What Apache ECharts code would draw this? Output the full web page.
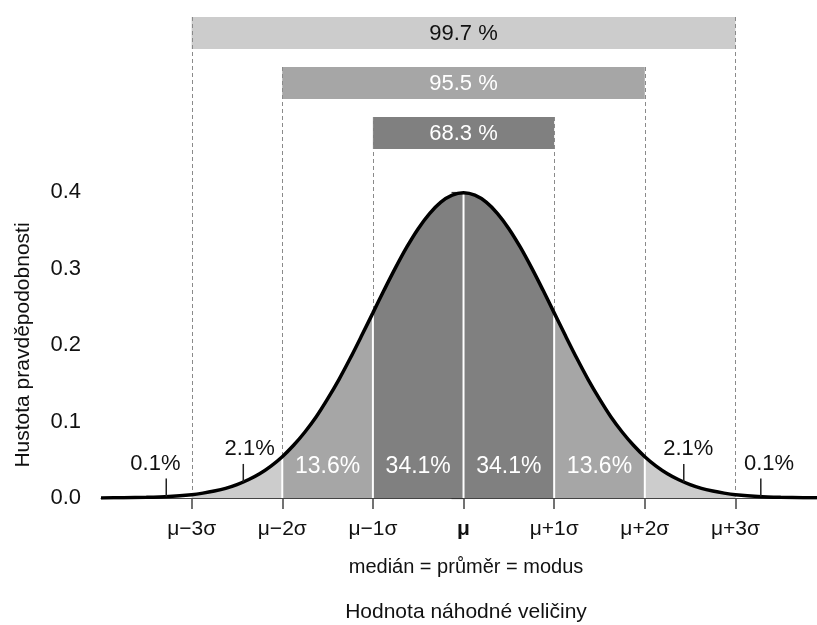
<!DOCTYPE html>
<html>
<head>
<meta charset="utf-8">
<script src="https://cdn.jsdelivr.net/npm/echarts@6/dist/echarts.min.js"></script>
<style>html,body{margin:0;padding:0;background:#fff}#c{width:817px;height:625px}</style>
</head>
<body>
<div id="c"></div>
<script>
// ---- data ----
const xTickValues = [-3, -2, -1, 0, 1, 2, 3];
const xTickLabels = ['μ−3σ', 'μ−2σ', 'μ−1σ', 'μ', 'μ+1σ', 'μ+2σ', 'μ+3σ'];
const yTickValues = [0, 0.1, 0.2, 0.3, 0.4];
const curveX = [-4, -3.75, -3.5, -3.25,
  -3, -2.875, -2.75, -2.625, -2.5, -2.375, -2.25, -2.125, -2, -1.875, -1.75, -1.625, -1.5, -1.375, -1.25, -1.125,
  -1, -0.875, -0.75, -0.625, -0.5, -0.375, -0.25, -0.125, 0, 0.125, 0.25, 0.375, 0.5, 0.625, 0.75, 0.875,
  1, 1.125, 1.25, 1.375, 1.5, 1.625, 1.75, 1.875, 2, 2.125, 2.25, 2.375, 2.5, 2.625, 2.75, 2.875, 3,
  3.25, 3.5, 3.75, 3.9];
const curveY = [0.0001, 0.0004, 0.0009, 0.0020,
  0.0044, 0.0064, 0.0091, 0.0126, 0.0175, 0.0238, 0.0317, 0.0417, 0.0540, 0.0689, 0.0863, 0.1062, 0.1295, 0.1548, 0.1826, 0.2120,
  0.2420, 0.2721, 0.3011, 0.3282, 0.3521, 0.3718, 0.3867, 0.3958, 0.3989, 0.3958, 0.3867, 0.3718, 0.3521, 0.3282, 0.3011, 0.2721,
  0.2420, 0.2120, 0.1826, 0.1548, 0.1295, 0.1062, 0.0863, 0.0689, 0.0540, 0.0417, 0.0317, 0.0238, 0.0175, 0.0126, 0.0091, 0.0064, 0.0044,
  0.0020, 0.0009, 0.0004, 0.0002];
const bandLo = [-3, -2, -1, 1, 2];
const bandHi = [-2, -1, 1, 2, 3];
const innerLabels = ['13.6%', '34.1%', '34.1%', '13.6%'];
const innerLabelX = [-1.5, -0.5, 0.5, 1.5];
const outerLabels = ['0.1%', '2.1%', '2.1%', '0.1%'];
const outerTickX = [-3.28, -2.43, 2.43, 3.28];
const outerTickH = [0.002, 0.021, 0.021, 0.002];
const outerLabelX = [-3.4, -2.36, 2.48, 3.37];
const whiteLineX = [-2, -1, 0, 1, 2];
const barLo = [-3, -2, -1];
const barHi = [3, 2, 1];
const barLabels = ['99.7 %', '95.5 %', '68.3 %'];

// ---- styles ----
const bandColors = ['#cccccc', '#a6a6a6', '#808080', '#a6a6a6', '#cccccc'];
const barColors = ['#cccccc', '#a6a6a6', '#808080'];
const barTextColors = ['#111111', '#ffffff', '#ffffff'];
const FONT = 'Liberation Sans, Arial, sans-serif';

const chart = echarts.init(document.getElementById('c'));
const curveData = curveX.map((x, i) => [x, curveY[i]]);

const series = [];
// bars at top with dashed guide lines
series.push({
  type: 'custom', z: 1, silent: true,
  data: barLo.map((lo, i) => [lo, barHi[i], 0, i]),
  encode: { x: [0, 1], y: 2 },
  renderItem: function (params, api) {
    const lo = api.value(0), hi = api.value(1), i = api.value(3);
    const p0 = api.coord([lo, 0]);
    const p1 = api.coord([hi, 0]);
    const top = params.coordSys.y - 175 + i * 50;
    const h = 32;
    return {
      type: 'group',
      children: [
        { type: 'rect', shape: { x: p0[0], y: top, width: p1[0] - p0[0], height: h }, style: { fill: barColors[i] } },
        { type: 'text', style: { x: (p0[0] + p1[0]) / 2, y: top + h / 2 + 1, text: barLabels[i], fill: barTextColors[i], font: '22px ' + FONT, textAlign: 'center', textVerticalAlign: 'middle' } },
        { type: 'line', shape: { x1: Math.round(p0[0]) + 0.5, y1: top, x2: Math.round(p0[0]) + 0.5, y2: p0[1] }, style: { stroke: '#8a8a8a', lineWidth: 1, lineDash: [4, 3] } },
        { type: 'line', shape: { x1: Math.round(p1[0]) + 0.5, y1: top, x2: Math.round(p1[0]) + 0.5, y2: p1[1] }, style: { stroke: '#8a8a8a', lineWidth: 1, lineDash: [4, 3] } }
      ]
    };
  }
});
// shaded bands
bandLo.forEach((lo, b) => {
  const hi = bandHi[b];
  series.push({
    type: 'line', z: 2, silent: true, smooth: 0.3, symbol: 'none',
    data: curveData.filter(d => d[0] >= lo && d[0] <= hi),
    lineStyle: { width: 0 },
    areaStyle: { color: bandColors[b], opacity: 1 }
  });
});
// white separators
series.push({
  type: 'custom', z: 3, silent: true,
  data: whiteLineX.map(x => [x, curveY[curveX.indexOf(x)]]),
  renderItem: function (params, api) {
    const a = api.coord([api.value(0), 0]);
    const b = api.coord([api.value(0), api.value(1)]);
    return { type: 'line', shape: { x1: a[0], y1: a[1], x2: b[0], y2: b[1] }, style: { stroke: '#ffffff', lineWidth: 2 } };
  }
});
// curve
series.push({
  type: 'line', z: 4, silent: true, smooth: 0.3, symbol: 'none',
  data: curveData,
  lineStyle: { color: '#000000', width: 3.5 }
});
// inner labels
series.push({
  type: 'custom', z: 5, silent: true,
  data: innerLabelX.map((x, i) => [x, 0, i]),
  renderItem: function (params, api) {
    const p = api.coord([api.value(0), 0]);
    return { type: 'text', style: { x: p[0], y: p[1] - 31, text: innerLabels[api.value(2)], fill: '#ffffff', font: '23px ' + FONT, textAlign: 'center', textVerticalAlign: 'middle' } };
  }
});
// outer labels with small ticks
series.push({
  type: 'custom', z: 5, silent: true,
  data: outerTickX.map((x, i) => [x, outerTickH[i], outerLabelX[i], i]),
  renderItem: function (params, api) {
    const p = api.coord([api.value(0), api.value(1)]);
    const q = api.coord([api.value(2), api.value(1)]);
    const top = p[1] - 18;
    return {
      type: 'group',
      children: [
        { type: 'line', shape: { x1: p[0], y1: p[1], x2: p[0], y2: top }, style: { stroke: '#222222', lineWidth: 1.5 } },
        { type: 'text', style: { x: q[0], y: top - 15, text: outerLabels[api.value(3)], fill: '#111111', font: '22px ' + FONT, textAlign: 'center', textVerticalAlign: 'middle' } }
      ]
    };
  }
});

chart.setOption({
  animation: false,
  backgroundColor: '#ffffff',
  grid: { left: 101, right: 0, top: 192, bottom: 127, containLabel: false },
  xAxis: {
    type: 'value', min: -4, max: 3.9,
    splitLine: { show: false },
    axisLine: { show: true, lineStyle: { color: '#444444', width: 1 } },
    axisTick: { show: true, customValues: xTickValues, length: 11, lineStyle: { color: '#444444', width: 1.5 } },
    axisLabel: {
      customValues: xTickValues, margin: 21, color: '#111111', fontSize: 21, fontFamily: FONT,
      formatter: function (v) {
        const idx = xTickValues.indexOf(Math.round(v));
        const t = xTickLabels[idx];
        return v === 0 ? '{b|' + t + '}' : t;
      },
      rich: { b: { fontWeight: 'bold', fontSize: 21, fontFamily: FONT, color: '#111111' } }
    }
  },
  yAxis: {
    type: 'value', min: 0, max: 0.4, interval: 0.1,
    splitLine: { show: false },
    axisLine: { show: true, lineStyle: { color: '#222222', width: 1.2 } },
    axisTick: { show: true, length: 12, lineStyle: { color: '#333333', width: 1.2 } },
    axisLabel: { margin: 20, color: '#111111', fontSize: 22, fontFamily: FONT, formatter: v => v.toFixed(1) },
    name: 'Hustota pravděpodobnosti', nameLocation: 'middle', nameGap: 67,
    nameTextStyle: { fontSize: 21, fontFamily: FONT, color: '#111111' }
  },
  graphic: [
    { type: 'text', style: { x: 466, y: 567, text: 'medián = průměr = modus', font: '20px ' + FONT, fill: '#111111', textAlign: 'center', textVerticalAlign: 'middle' } },
    { type: 'text', style: { x: 466, y: 612, text: 'Hodnota náhodné veličiny', font: '21px ' + FONT, fill: '#111111', textAlign: 'center', textVerticalAlign: 'middle' } }
  ],
  series: series
});
</script>
</body>
</html>
